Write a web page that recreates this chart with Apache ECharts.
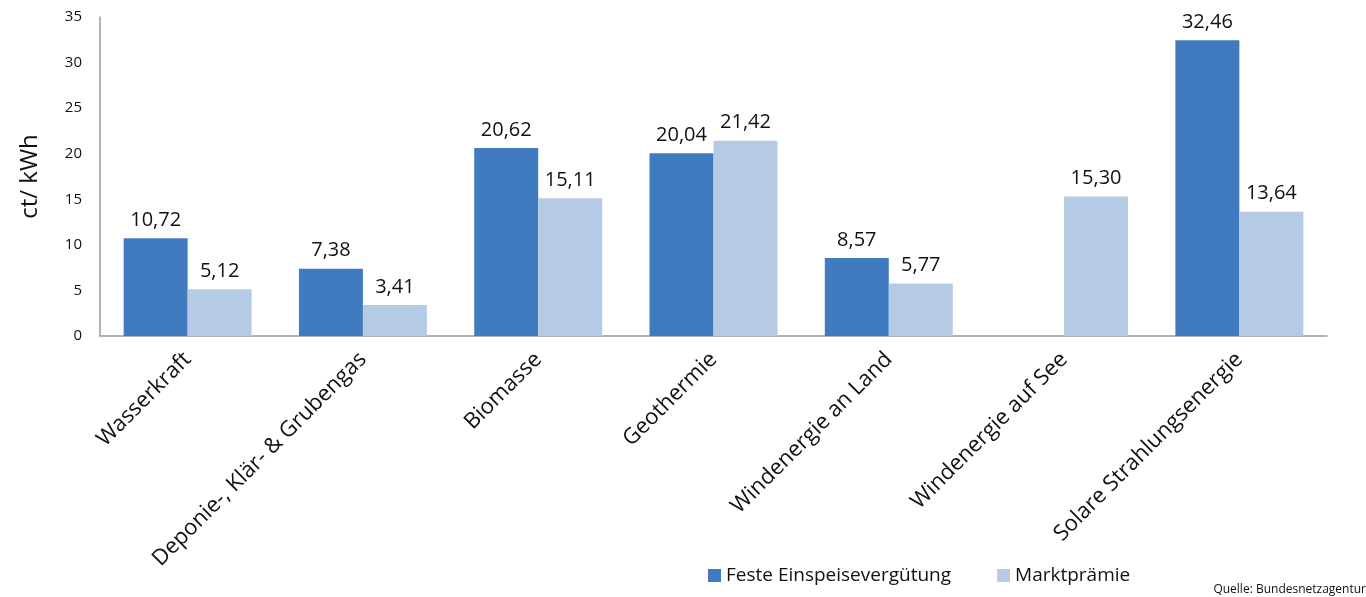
<!DOCTYPE html>
<html>
<head>
<meta charset="utf-8">
<script src="https://cdn.jsdelivr.net/npm/echarts@6/dist/echarts.min.js"></script>
<style>
  html,body{margin:0;padding:0;background:#fff;}
  #main{width:1366px;height:597px;}
</style>
</head>
<body>
<div id="main"></div>
<script>
//Kategorien
let categories = ['Wasserkraft', 'Deponie-, Klär- & Grubengas', 'Biomasse', 'Geothermie', 'Windenergie an Land', 'Windenergie auf See', 'Solare Strahlungsenergie']
//Feste Einspeisevergütung
let festeValues = [10.72, 7.38, 20.62, 20.04, 8.57, null, 32.46]
//Marktprämie
let marktValues = [5.12, 3.41, 15.11, 21.42, 5.77, 15.30, 13.64]
let seriesNames = ['Feste Einspeisevergütung', 'Marktprämie']
let yTicks = [0, 5, 10, 15, 20, 25, 30, 35]

let fontName = '"Open Sans", "Noto Sans", sans-serif'
let myChart = echarts.init(document.getElementById('main'))

//Zahlen mit Komma
let fmt = v => v == null ? '' : v.toFixed(2).replace('.', ',')

let labelStyle = {
    show: true,
    position: 'top',
    distance: 8,
    color: '#111',
    fontSize: 20,
    fontFamily: fontName,
    formatter: p => fmt(p.value)
}

let option = {
    animation: false,
    grid: {left: 100, right: 39, top: 17, bottom: 261},
    legend: {
        bottom: 7,
        left: 703,
        itemWidth: 13,
        itemHeight: 13,
        itemGap: 46,
        icon: 'rect',
        textStyle: {fontSize: 19, color: '#111', fontFamily: fontName},
        data: seriesNames
    },
    graphic: [{
        type: 'text',
        right: 0,
        bottom: 1,
        style: {text: 'Quelle: Bundesnetzagentur', fontSize: 12, fill: '#111', fontFamily: fontName}
    }],
    xAxis: {
        type: 'category',
        data: categories,
        axisLine: {lineStyle: {color: '#9a9a9a', width: 1.5}},
        axisTick: {show: false},
        axisLabel: {
            rotate: 45,
            interval: 0,
            margin: 20,
            fontSize: 22,
            color: '#111',
            fontFamily: fontName
        }
    },
    yAxis: {
        type: 'value',
        min: yTicks[0],
        max: yTicks[yTicks.length - 1],
        interval: 5,
        name: 'ct/ kWh',
        nameLocation: 'middle',
        nameGap: 58,
        nameRotate: 90,
        nameTextStyle: {fontSize: 24, color: '#111', fontFamily: fontName},
        axisLine: {show: true, lineStyle: {color: '#9a9a9a', width: 1.5}},
        axisTick: {show: false},
        splitLine: {show: false},
        axisLabel: {fontSize: 15, color: '#111', margin: 18, fontFamily: fontName}
    },
    series: [
        {
            name: seriesNames[0],
            type: 'bar',
            data: festeValues,
            barGap: '0%',
            barCategoryGap: '27%',
            itemStyle: {color: '#417BBF'},
            label: labelStyle
        },
        {
            name: seriesNames[1],
            type: 'bar',
            data: marktValues,
            barGap: '0%',
            barCategoryGap: '27%',
            itemStyle: {color: '#B5CBE5'},
            label: labelStyle
        }
    ]
}
myChart.setOption(option)
</script>
</body>
</html>
